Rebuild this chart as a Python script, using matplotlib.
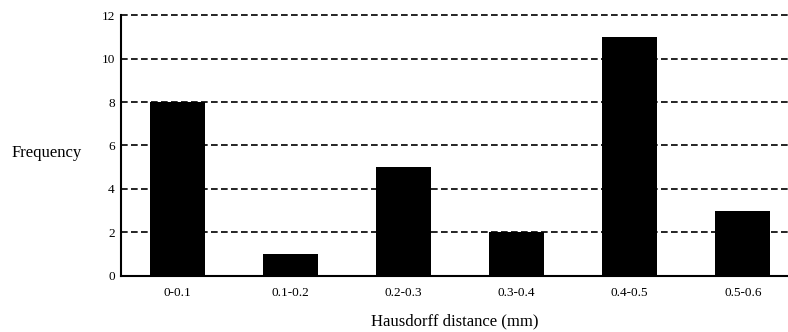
import matplotlib.pyplot as plt

categories = ['0-0.1', '0.1-0.2', '0.2-0.3', '0.3-0.4', '0.4-0.5', '0.5-0.6']
counts = [8, 1, 5, 2, 11, 3]
yticks = [0, 2, 4, 6, 8, 10, 12]

plt.rcParams['font.family'] = ['Liberation Serif', 'DejaVu Serif']

fig = plt.figure(figsize=(7.88, 3.32), dpi=100)
ax = fig.add_axes([0.1536, 0.1687, 0.8464, 0.7861])

x = range(len(categories))
ax.bar(x, counts, width=0.49, color='black', zorder=3)

ax.set_xlim(-0.5, 5.4)
ax.set_ylim(0, 12)
ax.set_yticks(yticks)
ax.set_xticks(list(x))
ax.set_xticklabels(categories)
ax.tick_params(axis='x', length=0, labelsize=9.5, pad=8)
ax.tick_params(axis='y', length=0, labelsize=9.5, pad=4.5)

# dashed horizontal grid, not clipped so the top line keeps full width
ax.yaxis.grid(True, linestyle=(0, (4, 2)), color='black', linewidth=1.2, zorder=0)
for gl in ax.get_ygridlines():
    gl.set_clip_on(False)
ax.set_axisbelow(True)

for s in ['top', 'right']:
    ax.spines[s].set_visible(False)
ax.spines['left'].set_linewidth(1.5)
ax.spines['bottom'].set_linewidth(1.5)

ax.set_xlabel('Hausdorff distance (mm)', fontsize=12, labelpad=10)
ax.set_ylabel('Frequency', fontsize=12, rotation=0, va='center', ha='center')
ax.yaxis.set_label_coords(-0.112, 0.47)

fig.savefig('out.png', dpi=100)
